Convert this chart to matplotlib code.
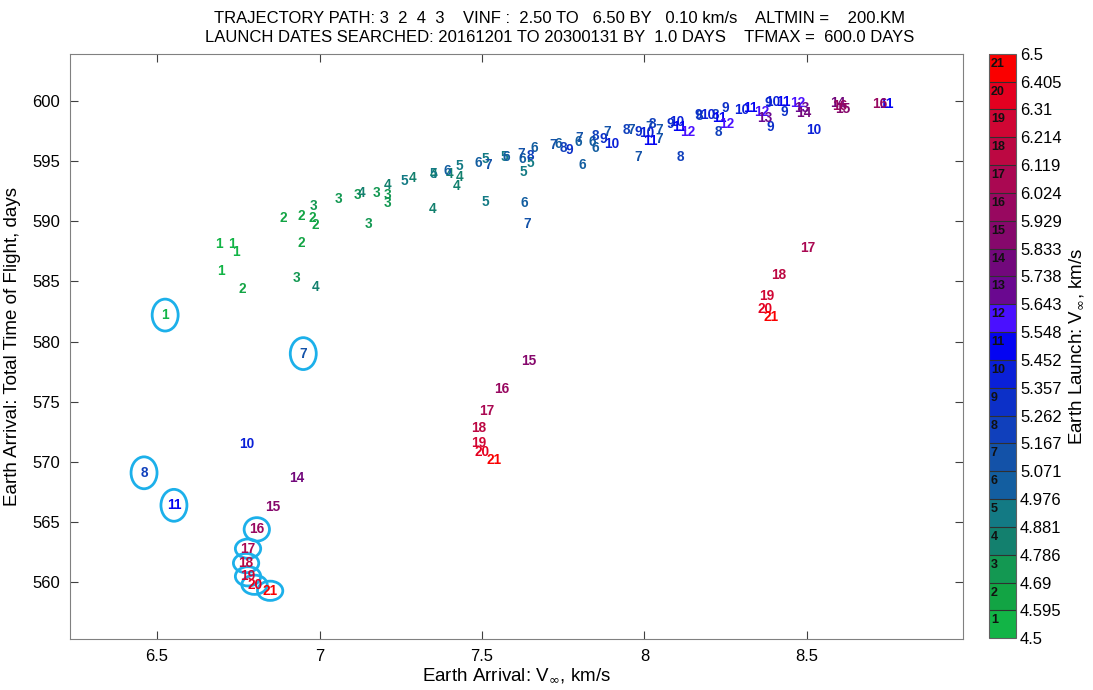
import matplotlib
matplotlib.use('Agg')
import matplotlib.pyplot as plt
import numpy as np
from matplotlib.colors import ListedColormap, BoundaryNorm
from matplotlib.patches import Ellipse

plt.rcParams['font.family'] = ['Liberation Sans', 'DejaVu Sans']

#---------------------------- data ------------------------------------------#
# launch bin number (1..21) -> launch Vinf bin between 4.5 and 6.5 km/s
vinf_lo = 4.5
vinf_hi = 6.5
n_bins = 21

bin_colors = ['#12b446', '#12a444', '#139852', '#13806e', '#137a84',
              '#135ea0', '#1352a8', '#1040bc', '#0c30c8', '#0a20d8',
              '#0404f2', '#4a10ff', '#6a0890', '#72087c', '#86086c',
              '#980860', '#aa0852', '#bc0842', '#d00634', '#e40020',
              '#fa0000']

# arrival Vinf (km/s), total TOF (days), launch bin label
arr_vinf = [6.691, 6.731, 6.743, 6.697,
            6.762, 6.888, 6.943, 6.977, 6.986, 6.943,
            6.980, 6.928, 7.057, 7.118, 7.174, 7.208, 7.210, 7.152,
            6.989, 7.128, 7.208, 7.285, 7.349, 7.350, 7.400, 7.430, 7.423,
            7.260, 7.350, 7.430, 7.510, 7.510, 7.570, 7.648, 7.626,
            7.394, 7.490, 7.574, 7.623, 7.660, 7.630, 7.734, 7.795, 7.840, 7.850, 7.810,
            7.520, 7.620, 7.640, 7.720, 7.800, 7.886, 7.980, 7.959, 8.014, 8.045, 8.045,
            7.648, 7.750, 7.850, 7.943, 8.025, 8.110, 8.168, 8.217, 8.226,
            7.768, 7.873, 7.980, 8.078, 8.165, 8.248, 8.386, 8.380, 8.430,
            7.900, 8.008, 8.100, 8.196, 8.300, 8.395, 8.520,
            8.017, 8.106, 8.232, 8.325, 8.426, 8.745,
            8.134, 8.254, 8.360, 8.470,
            8.370, 8.485,
            8.490, 8.595,
            8.610,
            8.600, 8.725,
            8.503, 8.414, 8.377, 8.370, 8.390,
            7.645, 7.560, 7.515, 7.490, 7.490, 7.500, 7.537,
            6.525, 6.950, 6.777, 6.460, 6.552, 6.930, 6.857,
            6.807, 6.780, 6.774, 6.780, 6.800, 6.848]
tof = [588.1, 588.1, 587.4, 585.9,
       584.4, 590.3, 590.4, 590.3, 589.7, 588.2,
       591.3, 585.3, 591.8, 592.2, 592.3, 592.2, 591.5, 589.8,
       584.5, 592.3, 593.0, 593.6, 591.0, 593.9, 593.9, 593.7, 592.9,
       593.3, 593.9, 594.6, 595.2, 591.6, 595.3, 594.8, 594.1,
       594.2, 594.8, 595.3, 595.2, 596.1, 591.5, 596.4, 596.6, 596.6, 596.1, 594.7,
       594.7, 595.6, 589.8, 596.3, 596.9, 597.4, 595.3, 597.6, 597.8, 597.6, 596.8,
       595.4, 596.1, 597.1, 597.6, 598.1, 595.3, 598.7, 598.8, 597.4,
       595.9, 596.8, 597.4, 598.1, 598.8, 599.4, 597.8, 599.8, 599.1,
       596.4, 597.3, 598.2, 598.8, 599.2, 599.9, 597.6,
       596.7, 597.8, 598.6, 599.4, 599.9, 599.7,
       597.4, 598.1, 599.1, 599.8,
       598.6, 599.4,
       599.0, 599.8,
       599.3,
       599.6, 599.7,
       587.8, 585.5, 583.8, 582.7, 582.0,
       578.4, 576.1, 574.2, 572.8, 571.6, 570.8, 570.2,
       582.2, 579.0, 571.5, 569.1, 566.4, 568.7, 566.3,
       564.4, 562.8, 561.6, 560.5, 559.8, 559.3]
launch_bin = [1, 1, 1, 1,
              2, 2, 2, 2, 2, 2,
              3, 3, 3, 3, 3, 3, 3, 3,
              4, 4, 4, 4, 4, 4, 4, 4, 4,
              5, 5, 5, 5, 5, 5, 5, 5,
              6, 6, 6, 6, 6, 6, 6, 6, 6, 6, 6,
              7, 7, 7, 7, 7, 7, 7, 7, 7, 7, 7,
              8, 8, 8, 8, 8, 8, 8, 8, 8,
              9, 9, 9, 9, 9, 9, 9, 9, 9,
              10, 10, 10, 10, 10, 10, 10,
              11, 11, 11, 11, 11, 11,
              12, 12, 12, 12,
              13, 13,
              14, 14,
              15,
              16, 16,
              17, 18, 19, 20, 21,
              15, 16, 17, 18, 19, 20, 21,
              1, 7, 10, 8, 11, 14, 15,
              16, 17, 18, 19, 20, 21]

# highlighted solutions (arrival Vinf, TOF, launch bin)
circ_vinf = [6.525, 6.950, 6.460, 6.552, 6.807, 6.780, 6.774, 6.780, 6.800, 6.848]
circ_tof = [582.2, 579.0, 569.1, 566.4, 564.4, 562.8, 561.6, 560.5, 559.8, 559.3]
circ_bin = [1, 7, 8, 11, 16, 17, 18, 19, 20, 21]

title1 = 'TRAJECTORY PATH: 3  2  4  3    VINF :  2.50 TO   6.50 BY   0.10 km/s    ALTMIN =    200.KM'
title2 = 'LAUNCH DATES SEARCHED: 20161201 TO 20300131 BY  1.0 DAYS    TFMAX =  600.0 DAYS'

#---------------------------- plot ------------------------------------------#
bounds = np.linspace(vinf_lo, vinf_hi, n_bins + 1)
dv = bounds[1] - bounds[0]
cmap = ListedColormap(bin_colors)
norm = BoundaryNorm(bounds, cmap.N)

fig = plt.figure(figsize=(10.93, 6.90), dpi=100)
ax = fig.add_axes([0.064, 0.074, 0.817, 0.848])
cax = fig.add_axes([0.905, 0.075, 0.0245, 0.847])

for x, y, k in zip(arr_vinf, tof, launch_bin):
    c = cmap(norm(vinf_lo + (k - 0.5) * dv))
    ax.text(x, y, str(k), color=c, fontsize=9.8, fontweight='bold',
            ha='center', va='center')

# ellipse size in data units: single digit -> tall, stacked two digit -> flat
for x, y, k in zip(circ_vinf, circ_tof, circ_bin):
    if k >= 17:
        w, h = 0.078, 1.6
    elif k == 16:
        w, h = 0.078, 1.95
    else:
        w, h = 0.08, 2.65
    ax.add_patch(Ellipse((x, y), w, h, fill=False, edgecolor='#1cb0ea', lw=2.0))

ax.set_xlim(6.232, 8.98)
ax.set_ylim(555.3, 603.9)
ax.set_xticks([6.5, 7, 7.5, 8, 8.5])
ax.set_xticklabels(['6.5', '7', '7.5', '8', '8.5'])
ax.set_yticks([560, 565, 570, 575, 580, 585, 590, 595, 600])
ax.tick_params(direction='in', top=True, right=True, labelsize=12, length=6,
               color='#404040', pad=7)
for s in ax.spines.values():
    s.set_color('#808080')
ax.set_xlabel(r'Earth Arrival: V$_\infty$, km/s', fontsize=13.5, labelpad=2)
ax.set_ylabel('Earth Arrival: Total Time of Flight, days', fontsize=13.5, labelpad=8)

narrow = ['Liberation Sans Narrow', 'Liberation Sans', 'DejaVu Sans']
fig.text(0.512, 0.973, title1, ha='center', va='center', fontsize=12,
         family=narrow, stretch='condensed')
fig.text(0.512, 0.945, title2, ha='center', va='center', fontsize=12,
         family=narrow, stretch='condensed')

sm = plt.cm.ScalarMappable(cmap=cmap, norm=norm)
cb = fig.colorbar(sm, cax=cax, boundaries=bounds, ticks=bounds, drawedges=True)
cb.ax.set_yticklabels(['%.4g' % b for b in bounds])
cb.ax.tick_params(length=0, labelsize=12, pad=3)
cb.outline.set_edgecolor('#606060')
cb.dividers.set_color('#303030')
cb.dividers.set_linewidth(0.8)
cb.set_label(r'Earth Launch: V$_\infty$, km/s', fontsize=13.5, labelpad=4)
for k in range(1, n_bins + 1):
    cax.text(0.06, bounds[k - 1] + 0.64 * dv, str(k), fontsize=9,
             fontweight='bold', color='#111111', ha='left', va='center',
             transform=cax.get_yaxis_transform())

fig.savefig('out.png', dpi=100)
